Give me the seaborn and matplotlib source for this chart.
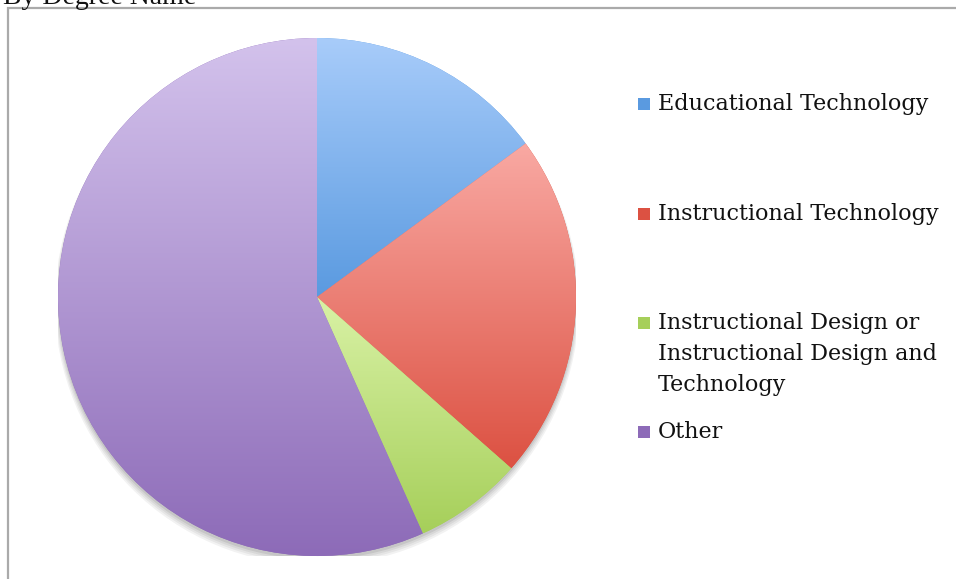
import textwrap
import numpy as np
import matplotlib.pyplot as plt
import matplotlib.patches as mpatches
from matplotlib.colors import to_rgb
import seaborn as sns

sns.set_style("white")
plt.rcParams['font.family'] = ['DejaVu Serif', 'Liberation Serif']

categories = ["Educational Technology", "Instructional Technology",
              "Instructional Design or Instructional Design and Technology", "Other"]
shares = [14.9, 21.6, 6.8, 56.7]
title = "By Degree Name"

# light top / dark bottom gradient for each slice
tops = ["#a8ccfa", "#f9a9a3", "#d9f2a6", "#d3c2ec"]
bottoms = ["#5a9ae0", "#dc5142", "#a6cf5a", "#8d6bb8"]

W, H = 956, 579
fig = plt.figure(figsize=(W / 100, H / 100), dpi=100)
cx, cy, r = 317, 297, 259
ax = fig.add_axes([(cx - r) / W, (H - cy - r) / H, 2 * r / W, 2 * r / H])
ax.axis('off')

# soft drop shadow
for i, a in enumerate([0.05, 0.05, 0.06, 0.08]):
    ax.add_patch(mpatches.Circle((0, -0.012 - 0.004 * (3 - i)), 1.0 + 0.004 * (3 - i),
                                 color='black', alpha=a, lw=0, zorder=0))

wedges, _ = ax.pie(shares, startangle=90, counterclock=False, radius=1,
                   colors=bottoms, wedgeprops=dict(lw=0))

for w, t, b in zip(wedges, tops, bottoms):
    ext = w.get_path().get_extents()
    f = np.linspace(0, 1, 256)[:, None]
    grad = (1 - f) * np.array(to_rgb(t)) + f * np.array(to_rgb(b))
    im = ax.imshow(grad[:, None, :], extent=(ext.x0, ext.x1, ext.y0, ext.y1),
                   origin='upper', aspect='auto', interpolation='bilinear', zorder=2)
    im.set_clip_path(w)
ax.set_xlim(-1, 1)
ax.set_ylim(-1, 1)

# legend drawn by hand (Excel spacing), y of first line of each entry
legend_y = [104, 214, 323, 432]
for lab, t, b, y in zip(categories, tops, bottoms, legend_y):
    fig.patches.append(mpatches.Rectangle((638 / W, 1 - (y + 6) / H), 12 / W, 12 / H,
                                          transform=fig.transFigure, facecolor=b, lw=0))
    for k, line in enumerate(textwrap.wrap(lab, 24)):
        fig.text(658 / W, 1 - (y + 31 * k) / H, line, ha='left', va='center',
                 fontsize=16, color='#111111')

# chart frame
fig.patches.append(mpatches.Rectangle((8 / W, -0.1), 1.2, 1 - 8 / H + 0.1,
                                      transform=fig.transFigure, fill=False,
                                      edgecolor='#aaaaaa', lw=1.6))
fig.text(3 / W, 1 - 4 / H, title, ha='left', va='baseline', fontsize=20,
         family='Liberation Serif', color='#111111')

fig.savefig("out.png", dpi=100)
